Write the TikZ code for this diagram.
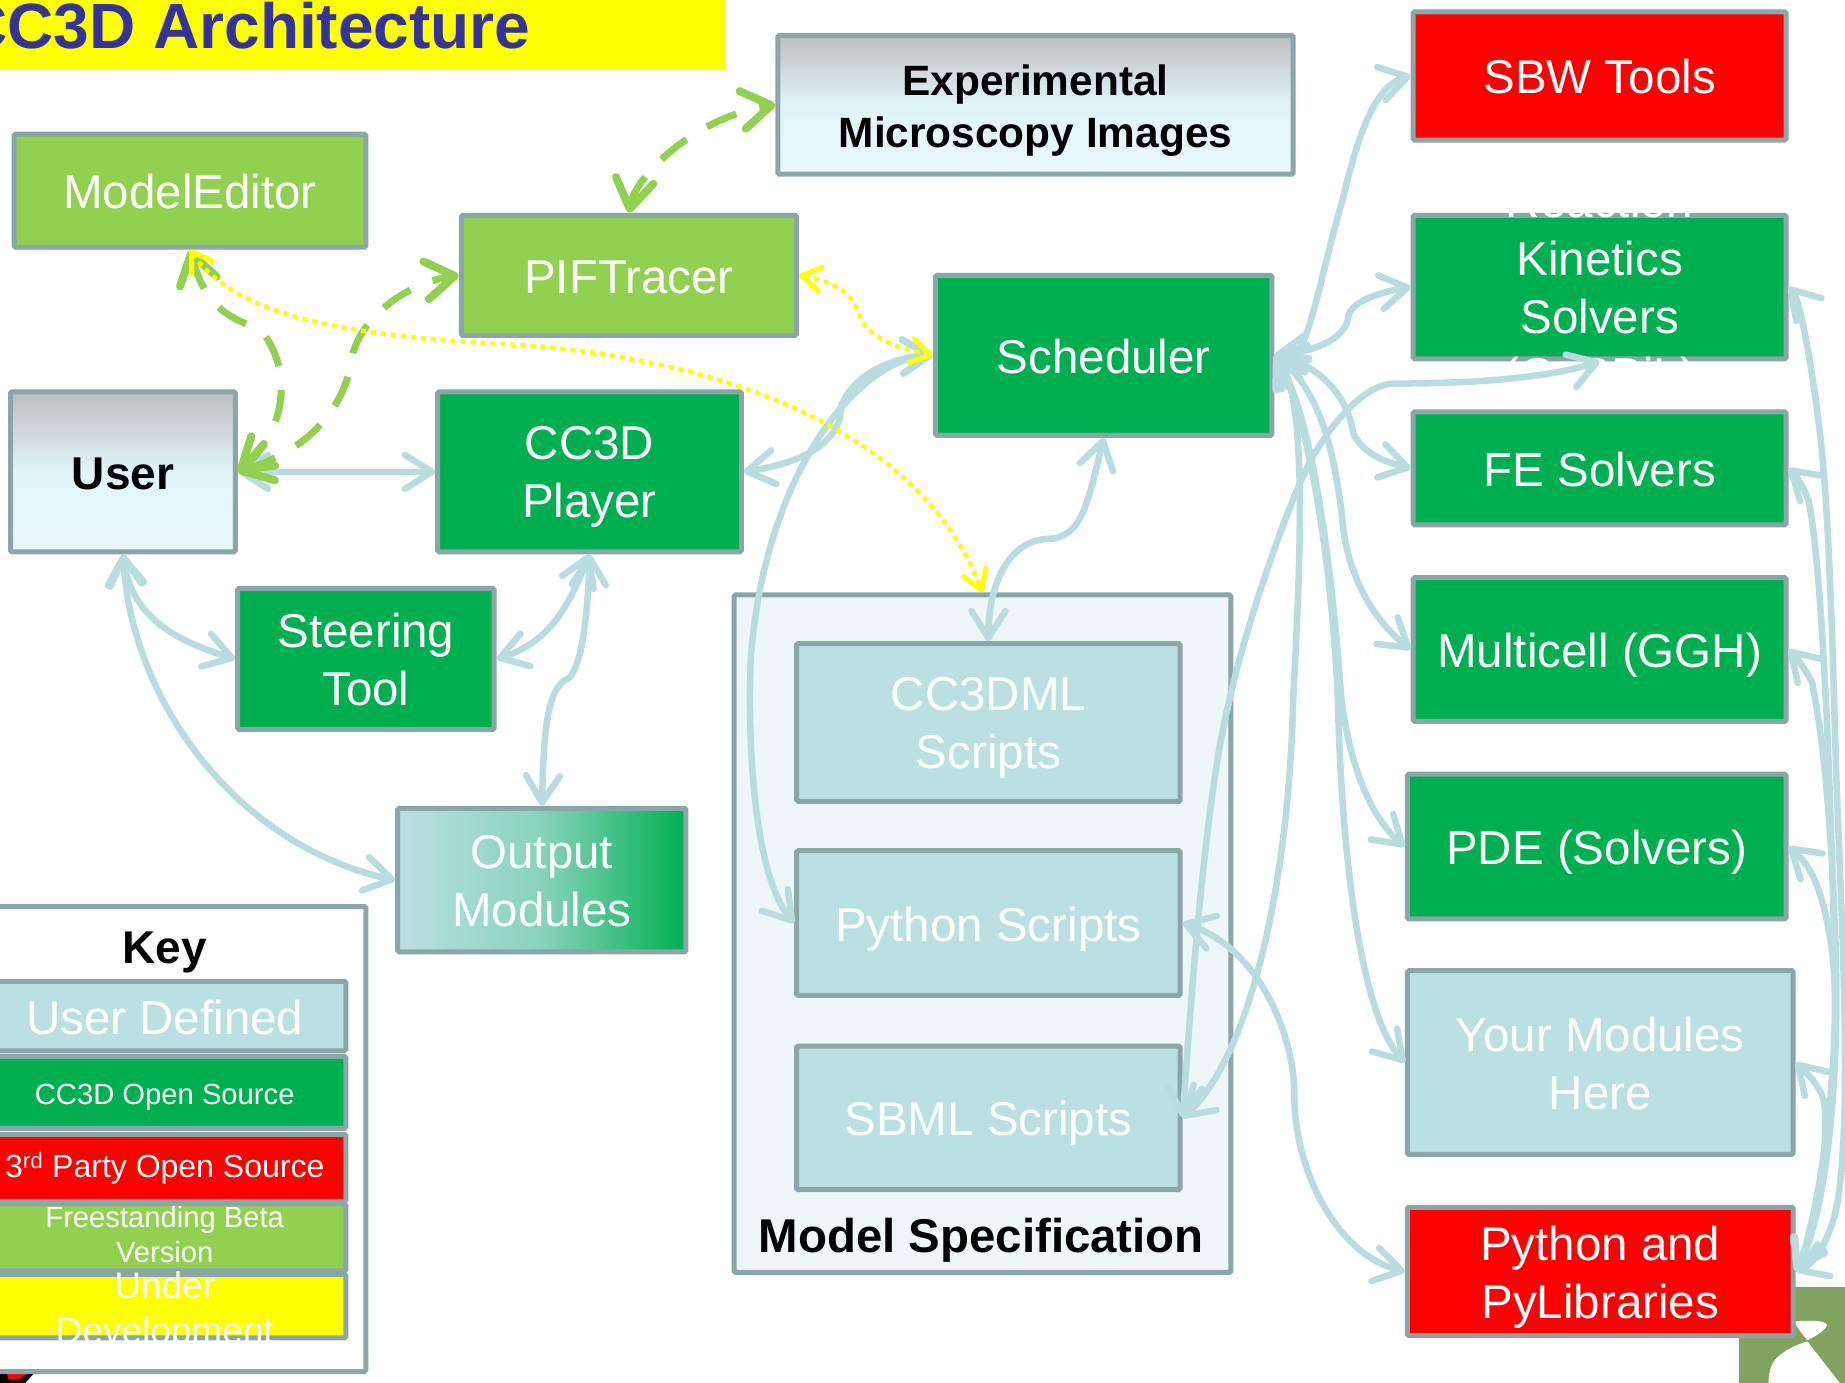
\documentclass[tikz,border=0pt]{standalone}
\usepackage{fontspec}
\setmainfont{Liberation Sans}
\usetikzlibrary{arrows.meta}
\definecolor{edge}{HTML}{8AA6A9}
\definecolor{lb}{HTML}{B8DCE0}
\definecolor{pale}{HTML}{BBE0E3}
\definecolor{dkg}{HTML}{00B050}
\definecolor{ltg}{HTML}{92D050}
\definecolor{titleblue}{HTML}{333399}
\definecolor{logog}{HTML}{82A35F}
\definecolor{frost}{HTML}{EEF6F8}
\definecolor{skyl}{HTML}{E0F4F8}
\definecolor{yel}{RGB}{255,255,0}
\definecolor{rd}{RGB}{255,0,0}
\definecolor{topgrey}{HTML}{BFBFBF}
\newcommand{\mystrut}{\vrule width 0pt height .905em depth .212em\relax}
\tikzset{
  bx/.style={draw=edge,line width=5pt,rounded corners=1.5pt,inner sep=0pt},
  green box/.style={bx,fill=dkg},
  lime box/.style={bx,fill=ltg},
  red box/.style={bx,fill=rd},
  pale box/.style={bx,fill=pale},
  yellow box/.style={bx,fill=yel},
  frost box/.style={bx,fill=frost},
  white box/.style={bx,fill=white},
  sky box/.style={bx,top color=topgrey,bottom color=skyl!70!white,middle color=skyl},
  out box/.style={bx,left color=pale,right color=dkg,middle color=pale!72!dkg},
  tx/.style={inner sep=0pt,align=center,execute at begin node={\mystrut},execute at end node={\mystrut}},
  wtxt/.style={tx,text=white,font=\fontsize{47.5}{58}\selectfont,yshift=-1.6pt},
  btxt/.style={tx,text=black,font=\fontsize{42.4}{52}\selectfont\bfseries},
  mline/.style={yshift=-4pt},
  BlueTip/.tip={Straight Barb[length=27pt,width=34pt,round,line width=6.5pt]},
  LimeTip/.tip={Straight Barb[length=29pt,width=38pt,round,line width=8pt]},
  YelTip/.tip={Straight Barb[length=19pt,width=24pt,round,line width=5pt]},
  conn/.style={draw=lb,line width=6.5pt,BlueTip-BlueTip},
  lime link/.style={draw=ltg,line width=7pt,dash pattern=on 32pt off 24pt,LimeTip-LimeTip},
  yellow link/.style={draw=yel,line width=4.5pt,dash pattern=on 5pt off 5pt,YelTip-YelTip},
}
% name, x1, y1, x2, y2, style, text style, text
\newcommand{\mkbox}[8]{%
  \pgfmathsetmacro{\bw}{(#4-#2)*1.1767}%
  \pgfmathsetmacro{\bh}{(#5-#3)*1.1767}%
  \node[#6,minimum width=\bw pt,minimum height=\bh pt] (#1) at ({(#2+#4)/2},{(#3+#5)/2}) {};
  \node[#7] (#1-t) at (#1.center) {#8};
}
\begin{document}
\begin{tikzpicture}[x=1.1767pt,y=-1.1767pt]
\useasboundingbox (0,0) rectangle (1568,1175.3);
\clip (0,0) rectangle (1568,1175.3);
\fill[white] (0,0) rectangle (1568,1175.3);
% corner fragments
\fill[logog] (1478,1094) rectangle (1568,1176);
\fill[white] (1525,1123) .. controls (1540,1122) and (1550,1122) .. (1553,1126) .. controls (1550,1132) and (1542,1136) .. (1536,1139) .. controls (1532,1134) and (1527,1128) .. (1525,1123) -- cycle;
\fill[white] (1536,1140) -- (1564,1176) -- (1503,1176) .. controls (1503,1165) and (1506,1158) .. (1510,1154) .. controls (1516,1148) and (1526,1143) .. (1536,1140) -- cycle;
\fill[black] (0,1167) -- (29,1167) -- (21,1176) -- (0,1176) -- cycle;
\fill[rd] (6,1167) -- (24,1167) -- (16,1172) -- (7,1172) -- cycle;
% title
\fill[yel] (0,0) rectangle (617,59);
\node[anchor=base east,inner sep=0pt,text=titleblue,font=\fontsize{64}{70}\selectfont\bfseries] (title) at (451,41) {CC3D Architecture};
% boxes
\mkbox{med}{12}{114}{311}{210}{lime box}{wtxt}{ModelEditor}
\mkbox{pif}{392}{183}{677}{285}{lime box}{wtxt}{PIFTracer}
\mkbox{exp}{661}{30}{1099}{148}{sky box}{btxt,yshift=-5.8pt}{Experimental\\Microscopy Images}
\mkbox{sched}{795}{234}{1081}{370}{green box}{wtxt}{Scheduler}
\mkbox{sbw}{1201}{10}{1518}{119}{red box}{wtxt}{SBW Tools}
\mkbox{kin}{1201}{183}{1518}{305}{green box}{wtxt,mline}{Reaction\\Kinetics\\Solvers\\(CoSBiL)}
\mkbox{fe}{1201}{350}{1518}{446}{green box}{wtxt}{FE Solvers}
\mkbox{multi}{1201}{491}{1518}{613}{green box}{wtxt}{Multicell (GGH)}
\mkbox{pde}{1196}{658}{1518}{781}{green box}{wtxt}{PDE (Solvers)}
\mkbox{your}{1196}{825}{1524}{981}{pale box}{wtxt,mline}{Your Modules\\Here}
\mkbox{pylib}{1196}{1026}{1524}{1135}{red box}{wtxt,mline}{Python and\\PyLibraries}
\mkbox{user}{9}{333}{200}{469}{sky box}{btxt,font=\fontsize{46}{56}\selectfont\bfseries,yshift=-1.4pt}{User}
\mkbox{player}{372}{333}{630}{469}{green box}{wtxt,mline}{CC3D\\Player}
\mkbox{steer}{202}{500}{420}{620}{green box}{wtxt,mline}{Steering\\Tool}
\mkbox{output}{338}{687}{583}{809}{out box}{wtxt,mline}{Output\\Modules}
% model specification
\node[frost box,minimum width=496.6pt,minimum height=677.6pt] (spec) at (835,793.5) {};
\node[btxt,font=\fontsize{47.4}{56}\selectfont\bfseries,yshift=-1.4pt] (spec-t) at (834,1049) {Model Specification};
\mkbox{cc3dml}{677}{547}{1003}{681}{pale box}{wtxt,mline}{CC3DML\\Scripts}
\mkbox{python}{677}{723}{1003}{846}{pale box}{wtxt}{Python Scripts}
\mkbox{sbml}{677}{889}{1003}{1011}{pale box}{wtxt}{SBML Scripts}
% key
\node[white box,minimum width=437pt,minimum height=465pt] (key) at (125.3,968) {};
\node[btxt,font=\fontsize{46}{56}\selectfont\bfseries] (key-t) at (140,805) {Key};
\mkbox{k1}{-14}{834}{294}{893}{pale box}{wtxt}{User Defined}
\mkbox{k2}{-14}{898}{294}{959}{green box}{wtxt,font=\fontsize{29.2}{35}\selectfont}{CC3D Open Source}
\mkbox{k3}{-14}{964}{294}{1021}{red box}{wtxt,font=\fontsize{32}{39}\selectfont,yshift=3pt}{3\textsuperscript{rd} Party Open Source}
\mkbox{k4}{-14}{1023}{294}{1080}{lime box}{wtxt,font=\fontsize{29.2}{35}\selectfont,yshift=1.2pt}{Freestanding Beta\\Version}
\mkbox{k5}{-14}{1083}{294}{1137}{yellow box}{wtxt,font=\fontsize{37}{44.7}\selectfont,yshift=-4pt}{Under\\Development}
% blue connectors, left part
\draw[conn] (user.east) -- (player.west);
\draw[conn] (user.south) .. controls (112,525) and (150,545) .. (steer.west);
\draw[conn] (user.south) .. controls (112,600) and (205,720) .. (output.west);
\draw[conn] (steer.east) .. controls (470,545) and (485,510) .. (player.south);
\draw[conn] (player.south) .. controls (500,515) and (495,575) .. (480,578) .. controls (462,590) and (462,640) .. (output.north);
\draw[conn] (player.east) .. controls (690,392) and (715,372) .. (715,345) .. controls (725,318) and (760,303) .. (sched.west);
\draw[conn] (sched.west) .. controls (730,305) and (650,400) .. (638,560) .. controls (635,640) and (642,745) .. (python.west);
\draw[conn] (sched.south) .. controls (925,425) and (920,458) .. (890,458) .. controls (855,460) and (840,500) .. (cc3dml.north);
\draw[conn] (python.east) .. controls (1070,805) and (1100,880) .. (1100,930) .. controls (1100,1000) and (1140,1068) .. (pylib.west);
% blue connectors, scheduler fan
\draw[conn] (sched.east) .. controls (1110,320) and (1120,240) .. (1141,170) .. controls (1155,110) and (1170,72) .. (sbw.west);
\draw[conn] (sched.east) .. controls (1110,300) and (1145,290) .. (1146,268) .. controls (1150,255) and (1175,248) .. (kin.west);
\draw[conn] (sched.east) .. controls (1120,310) and (1145,335) .. (1150,368) .. controls (1158,385) and (1175,392) .. (fe.west);
\draw[conn] (sched.east) .. controls (1120,330) and (1135,380) .. (1142,453) .. controls (1148,490) and (1165,525) .. (multi.west);
\draw[conn] (sched.east) .. controls (1115,350) and (1132,480) .. (1140,595) .. controls (1146,640) and (1160,690) .. (pde.west);
\draw[conn] (sched.east) .. controls (1112,350) and (1132,480) .. (1137,595) .. controls (1140,720) and (1155,860) .. (your.west);
\draw[conn] (sbml.east) .. controls (1012,850) and (1025,670) .. (1045,595) .. controls (1055,545) and (1090,440) .. (1111,397) .. controls (1130,360) and (1160,326) .. (1185,326) .. controls (1260,326) and (1320,320) .. (kin.south);
\draw[conn] (sbml.east) .. controls (1060,900) and (1095,760) .. (1099,595) .. controls (1105,480) and (1112,335) .. (sched.east);
% blue connectors, right side
\draw[conn] (kin.east) .. controls (1530,255) and (1542,320) .. (1549,390) .. controls (1556,470) and (1558,580) .. (1561,671) .. controls (1565,780) and (1575,960) .. (1560,1030) .. controls (1552,1060) and (1540,1075) .. (pylib.east);
\draw[conn] (fe.east) .. controls (1528,405) and (1535,420) .. (1537,425) .. controls (1548,480) and (1555,640) .. (1559,807) .. controls (1563,950) and (1548,1040) .. (pylib.east);
\draw[conn] (multi.east) .. controls (1528,560) and (1535,570) .. (1540,580) .. controls (1550,630) and (1556,700) .. (1559,780) .. controls (1565,900) and (1555,1020) .. (pylib.east);
\draw[conn] (pde.east) .. controls (1530,728) and (1536,735) .. (1541,745) .. controls (1550,765) and (1555,790) .. (1558,818) .. controls (1565,900) and (1545,1040) .. (pylib.east);
\draw[conn] (your.east) .. controls (1535,912) and (1545,920) .. (1550,935) .. controls (1555,970) and (1545,1040) .. (pylib.east);
% dashed lime connectors
\draw[lime link] (user.east) .. controls (240,370) and (250,320) .. (225,285) .. controls (210,270) and (178,275) .. (med.south);
\draw[lime link] (user.east) .. controls (270,380) and (295,340) .. (300,300) .. controls (310,265) and (350,240) .. (pif.west);
\draw[lime link] (pif.north) .. controls (540,150) and (590,100) .. (exp.west);
% dotted yellow connectors
\draw[yellow link] (med.south) .. controls (200,270) and (300,285) .. (420,292) .. controls (600,300) and (780,360) .. (spec.north);
\draw[yellow link] (pif.east) .. controls (725,242) and (728,262) .. (732,272) .. controls (745,292) and (770,297) .. (sched.west);
\end{tikzpicture}
\end{document}
